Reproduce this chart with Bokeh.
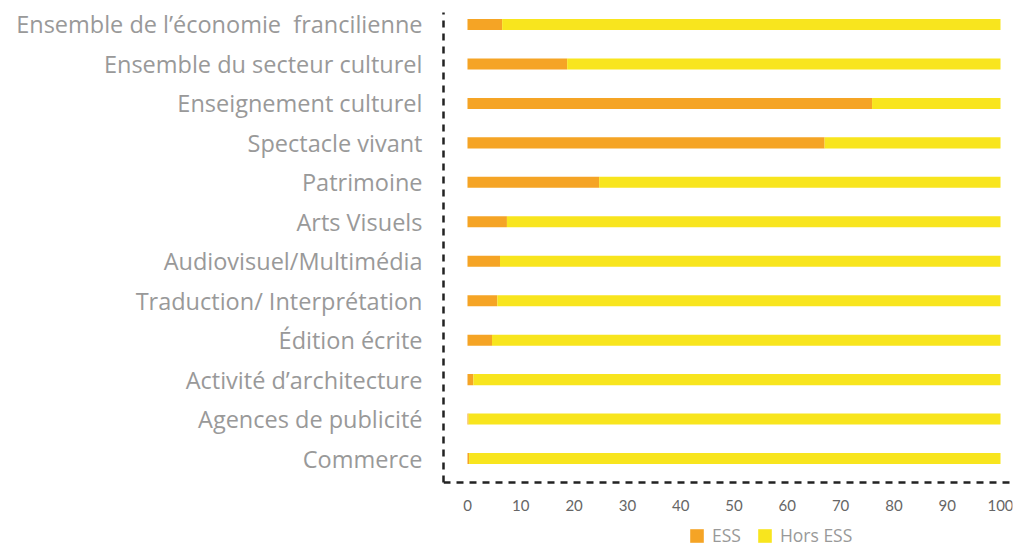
from bokeh.plotting import figure
from bokeh.models import ColumnDataSource, Range1d, FixedTicker, Legend, LegendItem, LinearAxis
from bokeh.embed import file_html
from bokeh.resources import INLINE

categories = [
    "Ensemble de l’économie\u00a0 francilienne",
    "Ensemble du secteur culturel",
    "Enseignement culturel",
    "Spectacle vivant",
    "Patrimoine",
    "Arts Visuels",
    "Audiovisuel/Multimédia",
    "Traduction/ Interprétation",
    "Édition écrite",
    "Activité d’architecture",
    "Agences de publicité",
    "Commerce",
]
ess = [6.5, 18.7, 75.9, 67.0, 24.7, 7.4, 6.1, 5.6, 4.6, 1.1, 0.2, 0.3]
hors_ess = [100 - v for v in ess]
x_ticks = [0, 10, 20, 30, 40, 50, 60, 70, 80, 90, 100]

n = len(categories)
ypos = [n - 1 - i for i in range(n)]
src = ColumnDataSource(dict(y=ypos, ESS=ess, Hors=hors_ess))

y_axis_at = -0.608
p = figure(width=1021, height=547, output_backend="svg", toolbar_location=None,
           x_range=Range1d(-4.5, 102.25), y_range=Range1d(-2.255, n - 1 + 0.304),
           x_axis_location=None,
           min_border_left=443, min_border_right=9, min_border_top=12, min_border_bottom=0)

r = p.hbar_stack(["ESS", "Hors"], y="y", height=0.28, source=src,
                 color=["#F5A425", "#F8E51E"], line_color=None)

xax = LinearAxis(fixed_location=y_axis_at)
p.add_layout(xax, "below")

p.xgrid.visible = False
p.ygrid.visible = False
p.outline_line_color = None
p.background_fill_color = "white"
p.border_fill_color = "white"

for ax in (xax, p.yaxis[0]):
    ax.axis_line_color = "#222222"
    ax.axis_line_width = 2.5
    ax.axis_line_dash = "7 6"
    ax.major_tick_line_color = None
    ax.minor_tick_line_color = None
    ax.major_tick_out = 0
    ax.major_tick_in = 0

xax.ticker = FixedTicker(ticks=x_ticks)
xax.major_label_text_font = "Lato"
xax.major_label_text_font_size = "15px"
xax.major_label_text_color = "#666666"
xax.major_label_standoff = 17

p.yaxis.bounds = (y_axis_at, n - 1 + 0.304)
p.yaxis.ticker = FixedTicker(ticks=ypos)
p.yaxis.major_label_overrides = {y: c for y, c in zip(ypos, categories)}
p.yaxis.major_label_text_font = "Open Sans"
p.yaxis.major_label_text_font_size = "23.5px"
p.yaxis.major_label_text_color = "#999999"
p.yaxis.major_label_standoff = 21

legend = Legend(items=[LegendItem(label="ESS", renderers=[r[0]]),
                       LegendItem(label="Hors ESS", renderers=[r[1]])],
                orientation="horizontal", location=(245, 0),
                label_text_font="Open Sans", label_text_font_size="17.5px",
                label_text_color="#999999", glyph_width=17, glyph_height=17,
                spacing=15, padding=0, margin=0, border_line_color=None,
                background_fill_alpha=0, label_standoff=7)
p.add_layout(legend, "center")

open("out.html", "w").write(file_html(p, INLINE))
